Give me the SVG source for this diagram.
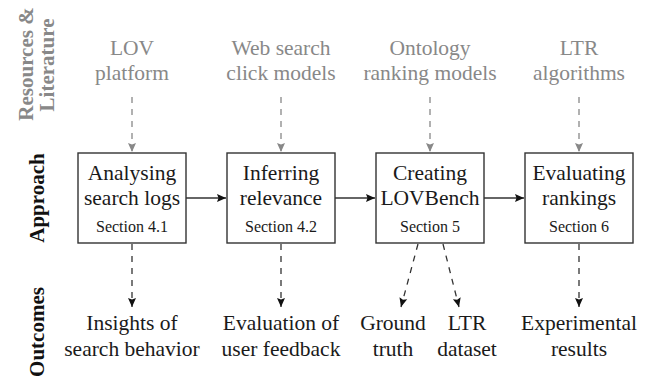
<svg xmlns="http://www.w3.org/2000/svg" width="646" height="381" viewBox="0 0 646 381" font-family="'Liberation Serif', 'DejaVu Serif', 'Noto Serif', serif">
<style>
text{font-family:"Liberation Serif","DejaVu Serif","Noto Serif",serif;}
.lbl{font-size:21px;font-weight:bold;text-anchor:middle;}
.res{font-size:21.5px;fill:#888;text-anchor:middle;}
.main{font-size:21.5px;fill:#1a1a1a;text-anchor:middle;}
.sec{font-size:16px;fill:#1a1a1a;text-anchor:middle;}
.out{font-size:21.5px;fill:#1a1a1a;text-anchor:middle;}
.box{fill:#fff;stroke:#333;stroke-width:1.4;}
.g{stroke:#888;stroke-width:1.3;stroke-dasharray:6 6;fill:none;marker-end:url(#ag);}
.k{stroke:#333;stroke-width:1.3;stroke-dasharray:6 6;fill:none;marker-end:url(#ak);}
.s{stroke:#333;stroke-width:1.5;fill:none;marker-end:url(#ak);}
</style>
<defs>
<marker id="ag" markerUnits="userSpaceOnUse" markerWidth="10" markerHeight="9" refX="9" refY="4" orient="auto" overflow="visible">
<path d="M0,0 L9,4 L0,8 L1.5,4 z" fill="#888"/>
</marker>
<marker id="ak" markerUnits="userSpaceOnUse" markerWidth="10" markerHeight="9" refX="9" refY="4" orient="auto" overflow="visible">
<path d="M0,0 L9,4 L0,8 L1.5,4 z" fill="#111"/>
</marker>
</defs>
<g id="row-labels">
<text class="lbl" fill="#888" transform="translate(33,64) rotate(-90)">Resources &amp;</text>
<text class="lbl" fill="#888" transform="translate(54,65) rotate(-90)">Literature</text>
<text class="lbl" fill="#111" transform="translate(44,198) rotate(-90)">Approach</text>
<text class="lbl" fill="#111" transform="translate(44,332) rotate(-90)">Outcomes</text>
</g>
<g id="res-lov"><text class="res" x="132" y="55">LOV</text><text class="res" x="132" y="80">platform</text></g>
<g id="res-web"><text class="res" x="281" y="55">Web search</text><text class="res" x="281" y="80">click models</text></g>
<g id="res-onto"><text class="res" x="430" y="55">Ontology</text><text class="res" x="430" y="80">ranking models</text></g>
<g id="res-ltr"><text class="res" x="579" y="55">LTR</text><text class="res" x="579" y="80">algorithms</text></g>
<g id="box1"><rect class="box" x="78" y="153" width="108" height="90"/><text class="main" x="132" y="180">Analysing</text><text class="main" x="132" y="205">search logs</text><text class="sec" x="132" y="232">Section 4.1</text></g>
<g id="box2"><rect class="box" x="227" y="153" width="108" height="90"/><text class="main" x="281" y="180">Inferring</text><text class="main" x="281" y="205">relevance</text><text class="sec" x="281" y="232">Section 4.2</text></g>
<g id="box3"><rect class="box" x="376" y="153" width="108" height="90"/><text class="main" x="430" y="180">Creating</text><text class="main" x="430" y="205">LOVBench</text><text class="sec" x="430" y="232">Section 5</text></g>
<g id="box4"><rect class="box" x="525" y="153" width="108" height="90"/><text class="main" x="579" y="180">Evaluating</text><text class="main" x="579" y="205">rankings</text><text class="sec" x="579" y="232">Section 6</text></g>
<g id="out1"><text class="out" x="132" y="330">Insights of</text><text class="out" x="132" y="356">search behavior</text></g>
<g id="out2"><text class="out" x="281" y="330">Evaluation of</text><text class="out" x="281" y="356">user feedback</text></g>
<g id="out3a"><text class="out" x="393" y="330">Ground</text><text class="out" x="393" y="356">truth</text></g>
<g id="out3b"><text class="out" x="467" y="330">LTR</text><text class="out" x="467" y="356">dataset</text></g>
<g id="out4"><text class="out" x="579" y="330">Experimental</text><text class="out" x="579" y="356">results</text></g>
<g id="connectors">
<path class="g" d="M132,97 L132,152"/>
<path class="g" d="M281,97 L281,152"/>
<path class="g" d="M430,97 L430,152"/>
<path class="g" d="M579,97 L579,152"/>
<path class="s" d="M186,198 L226,198"/>
<path class="s" d="M335,198 L375,198"/>
<path class="s" d="M484,198 L524,198"/>
<path class="k" d="M132,244 L132,307"/>
<path class="k" d="M281,244 L281,307"/>
<path class="k" d="M418,244 L401,307"/>
<path class="k" d="M443,244 L459,307"/>
<path class="k" d="M579,244 L579,307"/>
</g>
</svg>
